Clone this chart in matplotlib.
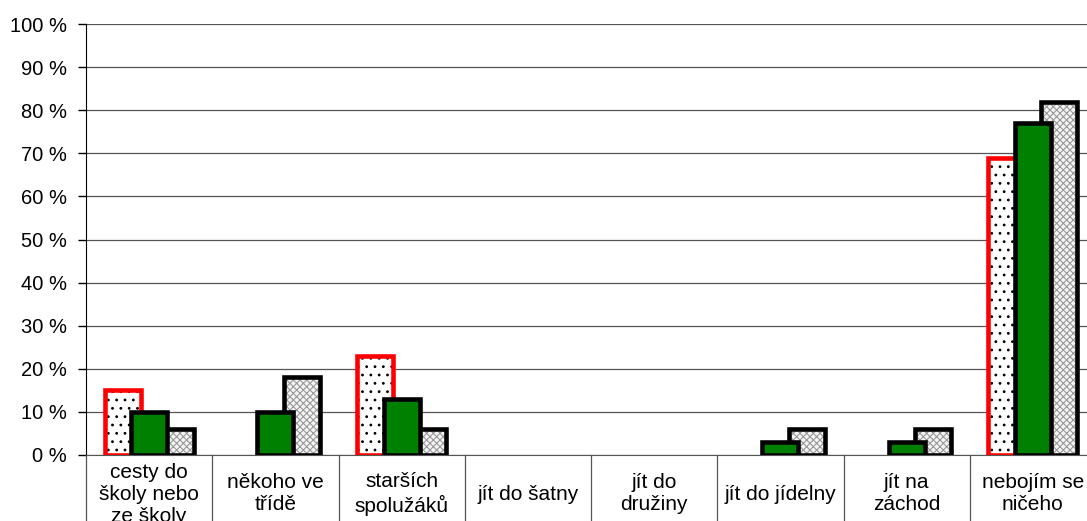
import matplotlib
matplotlib.use("Agg")
import matplotlib.pyplot as plt
import numpy as np

categories = ["cesty do\nškoly nebo\nze školy", "někoho ve\ntřídě", "starších\nspolužáků",
              "jít do šatny", "jít do\ndružiny", "jít do jídelny", "jít na\nzáchod",
              "nebojím se\nničeho"]
series_a = [15, 0, 23, 0, 0, 0, 0, 69]   # red outline, dotted
series_b = [10, 10, 13, 0, 0, 3, 3, 77]  # solid green
series_c = [6, 18, 6, 0, 0, 6, 6, 82]    # grey crosshatch
yticks = list(range(0, 101, 10))
ytick_labels = [f"{v} %" for v in yticks]

plt.rcParams['font.family'] = ['Liberation Sans', 'DejaVu Sans']
plt.rcParams['hatch.linewidth'] = 0.8

fig = plt.figure(figsize=(10.87, 5.21), dpi=100)
W, H = 1087, 521
ax = fig.add_axes([86 / W, 66 / H, 1010 / W, 431 / H])

x = np.arange(len(categories))
bw = 0.285
off = 0.21
LW = 3.3

def nz(vals):
    v = np.array(vals, dtype=float)
    m = v > 0
    return m, v

# series A: hatch layer then red outline
m, v = nz(series_a)
ax.bar(x[m] - off, v[m], bw, facecolor='white', edgecolor='black', hatch='..',
       linewidth=0, zorder=3)
ax.bar(x[m] - off, v[m], bw, facecolor='none', edgecolor='#ff0000', linewidth=LW,
       zorder=3.1)
# series C
m, v = nz(series_c)
ax.bar(x[m] + off, v[m], bw, facecolor='#f4f4f4', edgecolor='#9a9a9a', hatch='xxxxx',
       linewidth=0, zorder=3.2)
ax.bar(x[m] + off, v[m], bw, facecolor='none', edgecolor='black', linewidth=LW,
       zorder=3.3)
# series B (on top)
m, v = nz(series_b)
ax.bar(x[m], v[m], bw, facecolor='#008000', edgecolor='black', linewidth=LW,
       zorder=3.4)

ax.set_xlim(-0.5, len(categories) - 0.5)
ax.set_ylim(0, 100)
ax.set_yticks(yticks)
ax.set_yticklabels(ytick_labels, fontsize=14.5)
ax.tick_params(axis='y', length=6, width=1, direction='out', pad=8)
ax.set_xticks([])
ax.yaxis.grid(True, color='#555555', linewidth=0.9, zorder=0)
ax.set_axisbelow(True)
for s in ['top', 'right']:
    ax.spines[s].set_visible(False)
ax.spines['left'].set_color('black')
ax.spines['bottom'].set_color('#555555')

trans = ax.get_xaxis_transform()
for b in np.arange(-0.5, len(categories), 1.0):
    ax.plot([b, b], [0, -0.2], transform=trans, color='#555555', lw=0.9,
            clip_on=False)
for i, lab in enumerate(categories):
    ax.text(i, -39 / 431, lab, transform=trans, ha='center', va='center',
            fontsize=15, linespacing=1.2, clip_on=False)

fig.savefig("out.png", dpi=100)
